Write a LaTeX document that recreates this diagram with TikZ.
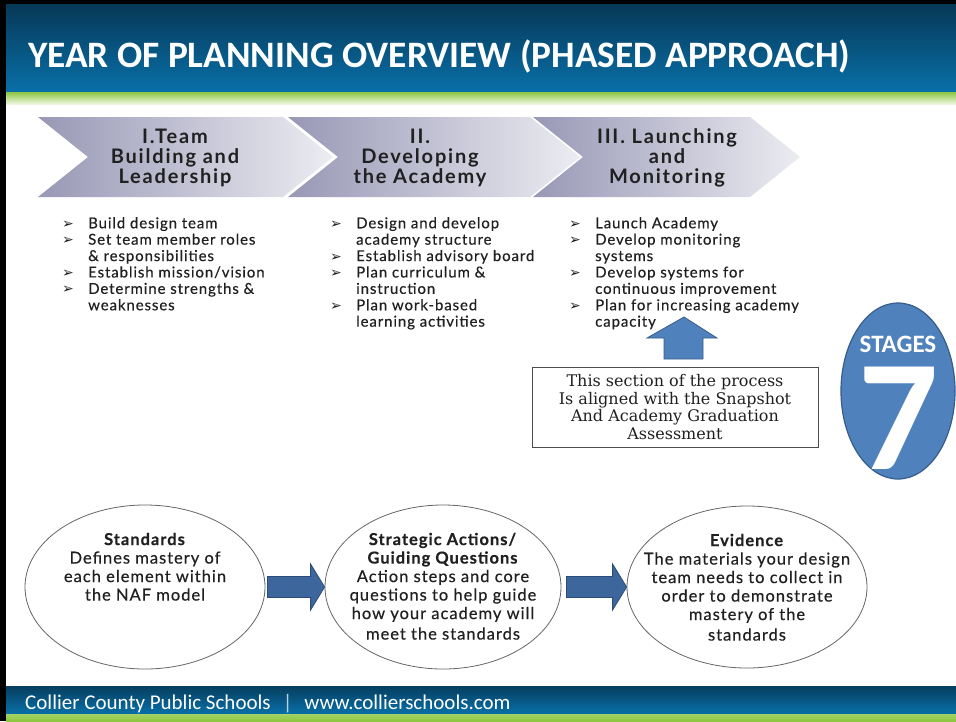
\documentclass[tikz,border=0pt]{standalone}
\usepackage{fontspec}
\setmainfont{Lato}
\newfontfamily\calibri{Carlito}
\newfontfamily\gill[LetterSpace=6, FakeBold=0.4]{Lato}
\newfontfamily\gillhead[LetterSpace=9]{Lato}
\newfontfamily\dingfont{DejaVu Sans}
\newfontfamily\slabfont{DejaVu Serif}
\usetikzlibrary{shapes.geometric,positioning,calc}

\definecolor{hdrtop}{HTML}{073857}
\definecolor{hdrbot}{HTML}{0870A8}
\definecolor{hdrgreen}{HTML}{8DC641}
\definecolor{paleg}{HTML}{EEF6E2}
\definecolor{chevL}{HTML}{9898B6}
\definecolor{chevR}{HTML}{ECECF2}
\definecolor{ink}{HTML}{202020}
\definecolor{stageblue}{HTML}{4F81BD}
\definecolor{stageline}{HTML}{385D8A}
\definecolor{arrowblue}{HTML}{3D679C}
\definecolor{arrowline}{HTML}{2B4C78}

\tikzset{
  chev/.style={left color=chevL, right color=chevR},
  chevtext/.style={font=\gillhead\bfseries\fontsize{20}{20}\selectfont, text=ink, align=center, inner sep=0pt},
  listtext/.style={font=\gill\fontsize{15}{16.4}\selectfont, text=ink, align=left, inner sep=0pt, anchor=north west},
  ell/.style={ellipse, draw=gray!80!black, line width=0.8pt},
  etext/.style={font=\gill\fontsize{16.5}{18.5}\selectfont, text=ink, align=center, inner sep=0pt, anchor=north},
  barrow/.style={fill=arrowblue, draw=arrowline, line width=0.8pt},
}

\newcommand{\bul}{\makebox[26pt][l]{\dingfont\fontsize{14}{14}\selectfont ➢}}
\newcommand{\gap}{\hspace*{26pt}}
% chevron: left x, right x
\newcommand{\chevron}[2]{\path[chev] (#1,117) -- (#2,117) -- (#2+50,157) -- (#2,197) -- (#1,197) -- (#1+50,157) -- cycle;}

\begin{document}
\begin{tikzpicture}[x=1pt,y=-1pt]
\useasboundingbox (0,0) rectangle (956,721);

% frame, header and footer
\fill[black] (0,0) rectangle (956,721);
\fill[white] (6,4) rectangle (956,721);
\shade[top color=hdrtop, bottom color=hdrbot] (6,4) rectangle (956,92);
\shade[top color=hdrgreen, bottom color=paleg] (6,92) rectangle (956,104);
\shade[top color=hdrtop!90!hdrbot, bottom color=hdrbot] (6,686) rectangle (956,714);
\shade[top color=hdrgreen!80!white, bottom color=hdrgreen] (6,714) rectangle (956,721);

\node [anchor=base west, text=white, inner sep=0pt, font=\calibri\bfseries\fontsize{37.3}{40}\selectfont] (title) at (28,67) {YEAR OF PLANNING OVERVIEW (PHASED APPROACH)};
\node [anchor=base west, text=white, inner sep=0pt, font=\calibri\fontsize{21}{22}\selectfont] (footer) at (25,709)
  {Collier County Public Schools\hspace{12pt}{\color{white!70!hdrbot}|}\hspace{12pt}www.collierschools.com};

% phases
\chevron{38}{283}
\chevron{288}{530}
\chevron{533}{750}
\node [chevtext] (phase1) at (175,158) {I.Team\\Building and\\Leadership};
\node [chevtext] (phase2) at (420,158) {II.\\Developing\\the Academy};
\node [chevtext] (phase3) at (667,158) {III. Launching\\and\\Monitoring};

\node [listtext] (list1) at (62,217) {\bul Build design team\\
  \bul Set team member roles\\ \gap \& responsibilities\\
  \bul Establish mission/vision\\
  \bul Determine strengths \&\\ \gap weaknesses};
\node [listtext] (list2) at (330,217) {\bul Design and develop\\ \gap academy structure\\
  \bul Establish advisory board\\
  \bul Plan curriculum \&\\ \gap instruction\\
  \bul Plan work-based\\ \gap learning activities};
\node [listtext] (list3) at (569,217) {\bul Launch Academy\\
  \bul Develop monitoring\\ \gap systems\\
  \bul Develop systems for\\ \gap continuous improvement\\
  \bul Plan for increasing academy\\ \gap capacity};

% snapshot note
\node [draw=gray!60!black, line width=0.8pt, minimum width=286pt, minimum height=80pt, align=center,
  font=\slabfont\fontsize{16}{17.7}\selectfont, text=ink] (note) at (675,407)
  {This section of the process\\Is aligned with the Snapshot\\And Academy Graduation\\Assessment};
\draw [fill=stageblue, draw=stageline, line width=0.8pt] (664,359) -- (664,338) -- (647,338) -- (684,317)
  -- (717,338) -- (703,338) -- (703,359) -- cycle;

% stages badge
\node [ellipse, fill=stageblue, draw=stageline, line width=1.2pt, minimum width=114pt, minimum height=176pt] (stages) at (898,391) {};
\node [anchor=base, text=white, inner sep=0pt, font=\calibri\bfseries\fontsize{25}{25}\selectfont] (stagelbl) at (898,352) {STAGES};
\node [anchor=base, text=white, inner sep=0pt, text height=100pt, text depth=0pt, font=\calibri\bfseries\fontsize{158}{158}\selectfont] (seven) at (899,469) {7};

% standards -> actions -> evidence
\node [ell, minimum width=240pt, minimum height=164pt] (e1) at (145,587) {};
\node [ell, minimum width=236pt, minimum height=164pt] (e2) at (443,587) {};
\node [ell, minimum width=240pt, minimum height=162pt] (e3) at (747,587) {};
\node [etext] (t1) at ($(e1.north)+(0,28)$) {\textbf{Standards}\\Defines mastery of\\each element within\\the NAF model};
\node [etext] (t2) at ($(e2.north)+(0,28)$) {\textbf{Strategic Actions/}\\\textbf{Guiding Questions}\\Action steps and core\\questions to help guide\\how your academy will\\[2pt]meet the standards};
\node [etext] (t3) at ($(e3.north)+(0,28)$) {\textbf{Evidence}\\The materials your design\\team needs to collect in\\order to demonstrate\\mastery of the\\[2pt]standards};

\draw [barrow] let \p1=(e1.east), \p2=(e2.west) in
  (\x1+2pt,\y1+10.5pt) -- (\x2-14pt,\y1+10.5pt) -- (\x2-14pt,\y1+23pt) -- (\x2,\y1)
  -- (\x2-14pt,\y1-23pt) -- (\x2-14pt,\y1-10.5pt) -- (\x1+2pt,\y1-10.5pt) -- cycle;
\draw [barrow] let \p1=(e2.east), \p2=(e3.west) in
  (\x1+5pt,\y1+10.5pt) -- (\x2-14pt,\y1+10.5pt) -- (\x2-14pt,\y1+23pt) -- (\x2,\y1)
  -- (\x2-14pt,\y1-23pt) -- (\x2-14pt,\y1-10.5pt) -- (\x1+5pt,\y1-10.5pt) -- cycle;
\end{tikzpicture}
\end{document}
